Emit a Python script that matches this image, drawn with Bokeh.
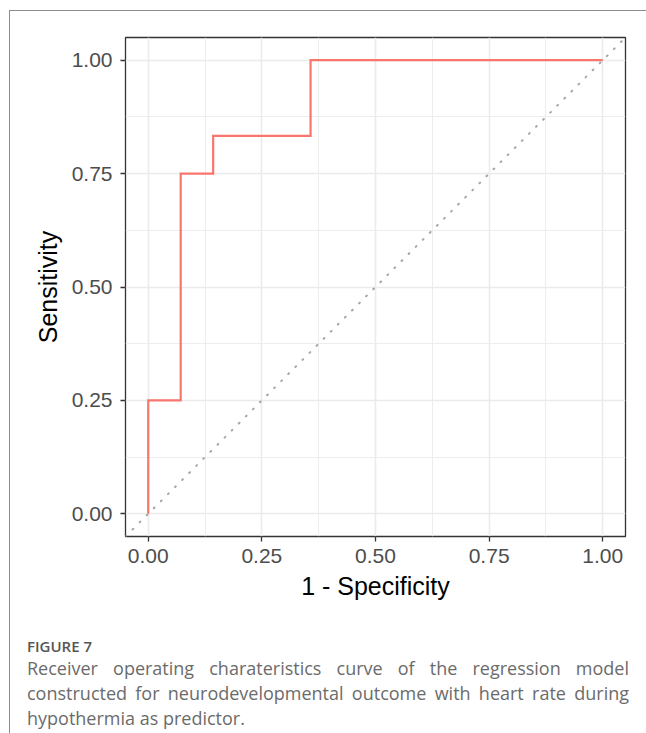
from bokeh.plotting import figure
from bokeh.layouts import column
from bokeh.models import Range1d, FixedTicker, PrintfTickFormatter, Slope, Div
from bokeh.embed import file_html
from bokeh.resources import INLINE

# ROC curve coordinates (false positive rate, true positive rate)
fpr = [0.0, 0.0, 1/14, 1/14, 2/14, 2/14, 5/14, 5/14, 1.0]
tpr = [0.0, 0.25, 0.25, 0.75, 0.75, 10/12, 10/12, 1.0, 1.0]

major_ticks = [0.0, 0.25, 0.50, 0.75, 1.00]
minor_ticks = [0.125, 0.375, 0.625, 0.875]
axis_limits = (-0.05, 1.05)

x_title = "1 - Specificity"
y_title = "Sensitivity"
caption_head = "FIGURE 7"
caption_lines = [
    "Receiver operating charateristics curve of the regression model",
    "constructed for neurodevelopmental outcome with heart rate during",
    "hypothermia as predictor.",
]

# page geometry: the panel is framed by a rule on its top and left sides
PAGE_W, PAGE_H = 646, 733
OFF_X, OFF_Y = 10, 11            # content origin inside the rules
FRAME_L, FRAME_R, FRAME_T, FRAME_B = 125, 625, 37, 536   # page pixels
FIG_W = PAGE_W - OFF_X
FIG_H = 612 - OFF_Y

p = figure(width=FIG_W, height=FIG_H, output_backend="svg",
           toolbar_location=None,
           x_range=Range1d(*axis_limits), y_range=Range1d(*axis_limits),
           min_border_left=FRAME_L - OFF_X, min_border_right=PAGE_W - FRAME_R,
           min_border_top=FRAME_T - OFF_Y,
           min_border_bottom=FIG_H - (FRAME_B - OFF_Y))
p.background_fill_color = "white"
p.border_fill_color = "white"
p.outline_line_color = "#333333"
p.outline_line_width = 1.3

for ax, title in ((p.xaxis[0], x_title), (p.yaxis[0], y_title)):
    ax.ticker = FixedTicker(ticks=major_ticks, minor_ticks=minor_ticks)
    ax.formatter = PrintfTickFormatter(format="%.2f")
    ax.axis_label = title
    ax.axis_label_text_font = "Liberation Sans"
    ax.axis_label_text_font_style = "normal"
    ax.axis_label_text_font_size = "25px"
    ax.axis_label_text_color = "black"
    ax.major_label_text_font = "Liberation Sans"
    ax.major_label_text_font_size = "21px"
    ax.major_label_text_color = "#4d4d4d"
    ax.axis_line_color = None
    ax.major_tick_line_color = "#333333"
    ax.major_tick_line_width = 1.3
    ax.major_tick_in = 0
    ax.major_tick_out = 5
    ax.minor_tick_line_color = None

p.xaxis.major_label_standoff = 7
p.yaxis.major_label_standoff = 8
p.xaxis.axis_label_standoff = 6
p.yaxis.axis_label_standoff = 7

for g in (p.xgrid[0], p.ygrid[0]):
    g.grid_line_color = "#ebebeb"
    g.grid_line_width = 1.6
    g.minor_grid_line_color = "#ebebeb"
    g.minor_grid_line_width = 0.9

# chance diagonal
p.add_layout(Slope(gradient=1, y_intercept=0, line_color="#a6a6a6",
                   line_width=2, line_dash="1 9", line_cap="round"))

p.line(fpr, tpr, line_color="#F8766D", line_width=2.2, line_join="miter")

# caption block under the chart
just = "text-align:justify;text-align-last:justify;white-space:nowrap;"
caption_html = (
    '<div style="font-family:\'Open Sans\';color:#6b6b6b;font-size:18px;'
    'line-height:25px;width:614px;padding-left:12px;">'
    f'<div style="font-size:15px;font-weight:600;color:#555555;'
    f'line-height:20px;margin-top:19px;margin-bottom:0px;">{caption_head}</div>'
    f'<div style="{just}">{caption_lines[0]}</div>'
    f'<div style="{just}">{caption_lines[1]}</div>'
    f'<div style="white-space:nowrap;">{caption_lines[2]}</div>'
    '</div>'
)
caption = Div(text=caption_html, width=FIG_W, height=PAGE_H - 612 + 20)

page = column(p, caption, spacing=0)
page.margin = (OFF_Y - 1, 0, 0, OFF_X - 1)
page.styles = {"border-top": "1px solid #8c8c8c",
               "border-left": "1px solid #8c8c8c"}

open("out.html", "w").write(file_html(page, INLINE))
